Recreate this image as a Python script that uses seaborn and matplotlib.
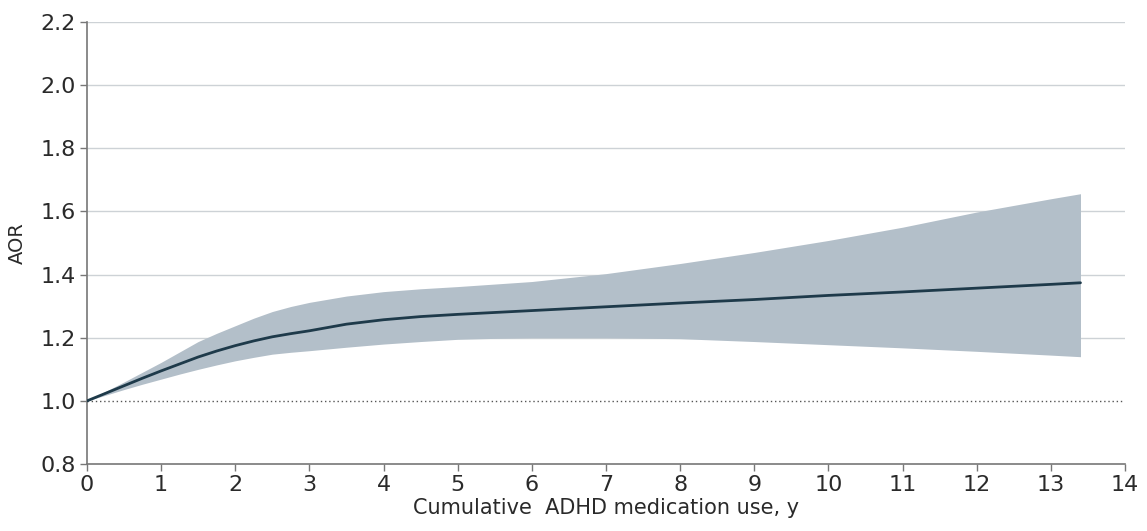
import numpy as np
import pandas as pd
import matplotlib
matplotlib.use("Agg")
import matplotlib.pyplot as plt
import seaborn as sns

# valeurs
years = [0, 0.25, 0.5, 0.75, 1, 1.25, 1.5, 1.75, 2, 2.25, 2.5, 2.75, 3, 3.5, 4, 4.5,
         5, 5.5, 6, 7, 8, 9, 10, 11, 12, 13, 13.4]
aor = [1.0, 1.024, 1.048, 1.072, 1.095, 1.117, 1.139, 1.158, 1.175, 1.19, 1.203, 1.213,
       1.222, 1.243, 1.257, 1.267, 1.274, 1.28, 1.286, 1.298, 1.31, 1.321, 1.334, 1.345,
       1.357, 1.369, 1.374]
ci_upper = [1.0, 1.03, 1.06, 1.091, 1.122, 1.155, 1.188, 1.214, 1.238, 1.262, 1.283, 1.299,
            1.312, 1.332, 1.346, 1.355, 1.362, 1.37, 1.378, 1.403, 1.435, 1.47, 1.508,
            1.55, 1.598, 1.64, 1.656]
ci_lower = [1.0, 1.018, 1.036, 1.053, 1.069, 1.085, 1.1, 1.114, 1.127, 1.138, 1.148, 1.154,
            1.159, 1.17, 1.18, 1.188, 1.195, 1.198, 1.2, 1.2, 1.197, 1.188, 1.178, 1.168,
            1.157, 1.145, 1.14]

df = pd.DataFrame({"years": years, "aor": aor, "lo": ci_lower, "hi": ci_upper})

sns.set_style("white")
plt.rcParams["font.family"] = ["Liberation Sans Narrow", "DejaVu Sans"]

fig = plt.figure(figsize=(11.47, 5.31), dpi=100)
ax = fig.add_axes([0.0758, 0.126, 0.905, 0.8328])

# bande de confiance + courbe
ax.fill_between(df["years"], df["lo"], df["hi"], color="#b3bfc9", lw=0, zorder=2)
sns.lineplot(data=df, x="years", y="aor", color="#1e3a4a", lw=2, ax=ax, zorder=3)

# grille horizontale et ligne de référence
for v in [1.2, 1.4, 1.6, 1.8, 2.0, 2.2]:
    ax.axhline(v, color="#cdd2d6", lw=1, zorder=1)
ax.axhline(1.0, color="#555555", lw=1, ls=(0, (1, 2)), zorder=1)

ax.set_xlim(0, 14)
ax.set_ylim(0.8, 2.2)
ax.set_xticks(range(0, 15))
ax.set_yticks([0.8, 1.0, 1.2, 1.4, 1.6, 1.8, 2.0, 2.2])
ax.set_yticklabels([f"{v:.1f}" for v in [0.8, 1.0, 1.2, 1.4, 1.6, 1.8, 2.0, 2.2]])

sns.despine(ax=ax, top=True, right=True)
for s in ["left", "bottom"]:
    ax.spines[s].set_color("#777777")
    ax.spines[s].set_linewidth(1.2)
ax.tick_params(axis="both", direction="out", length=5, width=1, color="#777777",
               labelsize=16, labelcolor="#2a2a2a", pad=3)
ax.tick_params(axis="x", bottom=True)
ax.tick_params(axis="y", left=True)

ax.set_xlabel("Cumulative  ADHD medication use, y", fontsize=15, color="#2a2a2a", labelpad=2)
ax.set_ylabel("AOR", fontsize=14, color="#2a2a2a", labelpad=10)

fig.savefig("out.png", dpi=100)
